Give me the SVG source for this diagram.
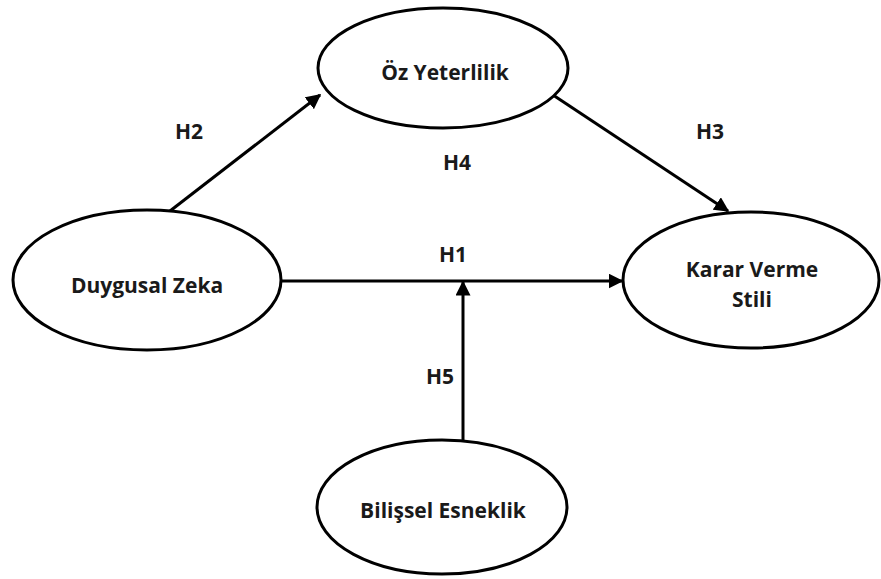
<svg xmlns="http://www.w3.org/2000/svg" width="881" height="579" viewBox="0 0 881 579">
  <style>
    .node ellipse { fill: #fff; stroke: #000; stroke-width: 3; }
    .lbl { font-family: "Open Sans", "Liberation Sans", sans-serif; font-weight: bold; font-size: 21px; fill: #1a1a1a; text-anchor: middle; }
    .edge { stroke: #000; stroke-width: 3; fill: none; marker-end: url(#arrow); }
  </style>
  <defs>
    <marker id="arrow" viewBox="0 0 10 10" refX="9" refY="5" markerWidth="5" markerHeight="5" orient="auto" markerUnits="strokeWidth">
      <path d="M0,0 L10,5 L0,10 z" fill="#000"/>
    </marker>
  </defs>
  <rect width="881" height="579" fill="#fff"/>

  <g id="connectors">
    <line class="edge" x1="170" y1="211" x2="320" y2="95"/>
    <line class="edge" x1="553" y1="95" x2="728" y2="211"/>
    <line class="edge" x1="282" y1="281" x2="622" y2="281"/>
    <line class="edge" x1="463" y1="440" x2="463" y2="282"/>
    <text class="lbl" x="189" y="139">H2</text>
    <text class="lbl" x="710" y="139">H3</text>
    <text class="lbl" x="457" y="170">H4</text>
    <text class="lbl" x="453" y="262">H1</text>
    <text class="lbl" x="440" y="384">H5</text>
  </g>

  <g id="oz-yeterlilik" class="node">
    <ellipse cx="443" cy="68" rx="125" ry="60"/>
    <text class="lbl" x="445" y="80">Öz Yeterlilik</text>
  </g>
  <g id="duygusal-zeka" class="node">
    <ellipse cx="147" cy="280" rx="134" ry="70"/>
    <text class="lbl" x="147" y="293">Duygusal Zeka</text>
  </g>
  <g id="karar-verme-stili" class="node">
    <ellipse cx="751" cy="280" rx="128" ry="68"/>
    <text class="lbl" x="752" y="277">Karar Verme</text>
    <text class="lbl" x="752" y="307">Stili</text>
  </g>
  <g id="bilissel-esneklik" class="node">
    <ellipse cx="442" cy="507" rx="125" ry="67"/>
    <text class="lbl" x="443" y="518">Bilişsel Esneklik</text>
  </g>
</svg>
